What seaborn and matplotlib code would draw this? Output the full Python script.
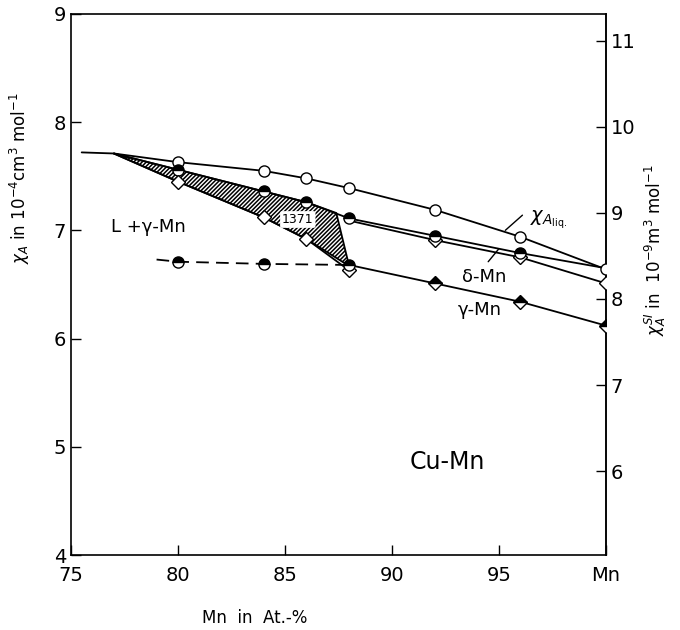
import matplotlib
matplotlib.use('Agg')
import numpy as np
import pandas as pd
import matplotlib.pyplot as plt
import seaborn as sns

sns.set_style('ticks')
plt.rcParams['font.family'] = ['DejaVu Sans']
plt.rcParams['mathtext.fontset'] = 'dejavusans'
plt.rcParams['text.color'] = 'black'
plt.rcParams['axes.labelcolor'] = 'black'
plt.rcParams['xtick.color'] = 'black'
plt.rcParams['ytick.color'] = 'black'
plt.rcParams['hatch.linewidth'] = 1.1

# liquid susceptibility (open circles)
liq_x = [75.5, 77, 80, 84, 86, 88, 92, 96, 100]
liq_y = [7.72, 7.71, 7.63, 7.55, 7.48, 7.39, 7.19, 6.94, 6.64]
liq_mx = [80, 84, 86, 88, 92, 96, 100]
liq_my = [7.63, 7.55, 7.48, 7.39, 7.19, 6.94, 6.64]

# liquidus side / delta-Mn upper branch (half-filled circles)
dup_x = [77, 80, 84, 86, 88, 92, 96, 100]
dup_y = [7.71, 7.56, 7.36, 7.26, 7.11, 6.95, 6.79, 6.65]
dup_mx = [80, 84, 86, 88, 92, 96]
dup_my = [7.56, 7.36, 7.26, 7.11, 6.95, 6.79]

# solidus side (open diamonds)
sol_x = [77, 80, 84, 86, 88]
sol_y = [7.71, 7.45, 7.12, 6.92, 6.63]

# delta-Mn lower branch (open diamonds)
dlo_x = [88, 92, 96, 100]
dlo_y = [7.09, 6.91, 6.75, 6.51]

# gamma-Mn (half-filled diamonds)
gam_x = [88, 92, 96, 100]
gam_y = [6.68, 6.51, 6.34, 6.12]

# dashed branch (half-filled circles)
dash_x = [79, 80, 84, 88]
dash_y = [6.73, 6.71, 6.69, 6.68]
dash_mx = [80, 84, 88]
dash_my = [6.71, 6.69, 6.68]

# two-phase region L + gamma-Mn (hatched)
reg_top_x = [77, 80, 84, 86, 87.4]
reg_top_y = [7.71, 7.56, 7.36, 7.26, 7.16]
reg_bot_x = [88, 86, 84, 80]
reg_bot_y = [6.67, 6.92, 7.12, 7.45]

x_ticks = [75, 80, 85, 90, 95, 100]
x_labels = ['75', '80', '85', '90', '95', 'Mn']
y_ticks = [4, 5, 6, 7, 8, 9]
y2_ticks = [6, 7, 8, 9, 10, 11]
cgs_to_si = 4 * np.pi / 10

fig = plt.figure(figsize=(6.8, 6.3), dpi=100)
ax = fig.add_axes([0.1044, 0.119, 0.7866, 0.859])

lw = 1.3
ms = 8
black = 'black'

ax.fill(reg_top_x + reg_bot_x, reg_top_y + reg_bot_y,
        facecolor='white', edgecolor=black, hatch='////////', linewidth=lw,
        zorder=1)

sns.lineplot(x=liq_x, y=liq_y, ax=ax, color=black, linewidth=lw, zorder=2)
sns.lineplot(x=dup_x, y=dup_y, ax=ax, color=black, linewidth=lw, zorder=2)
sns.lineplot(x=sol_x, y=sol_y, ax=ax, color=black, linewidth=lw, zorder=2)
sns.lineplot(x=dlo_x, y=dlo_y, ax=ax, color=black, linewidth=lw, zorder=2)
sns.lineplot(x=gam_x, y=gam_y, ax=ax, color=black, linewidth=lw, zorder=2)
sns.lineplot(x=dash_x, y=dash_y, ax=ax, color=black, linewidth=lw, zorder=2)
ax.lines[-1].set_dashes((7, 4))

mk = dict(color=black, linestyle='none', markersize=ms, markeredgecolor=black,
          markeredgewidth=1.0, zorder=4)
ax.plot(liq_mx, liq_my, marker='o', markerfacecolor='white', **mk)
ax.plot(dup_mx, dup_my, marker='o', fillstyle='top', markerfacecolor=black,
        markerfacecoloralt='white', **mk)
ax.plot(sol_x[1:], sol_y[1:], marker='D', markerfacecolor='white',
        **{**mk, 'markersize': ms - 1})
ax.plot(dlo_x[1:], dlo_y[1:], marker='D', markerfacecolor='white',
        **{**mk, 'markersize': ms - 1, 'zorder': 3})
ax.plot(gam_x[1:], gam_y[1:], marker='D', fillstyle='top',
        markerfacecolor=black, markerfacecoloralt='white',
        **{**mk, 'markersize': ms - 1})
ax.plot(dash_mx, dash_my, marker='o', fillstyle='top', markerfacecolor=black,
        markerfacecoloralt='white', **mk)

ax.set_xlim(75, 100)
ax.set_ylim(4, 9)
ax.set_xticks(x_ticks)
ax.set_xticklabels(x_labels)
ax.set_yticks(y_ticks)
ax.tick_params(axis='both', direction='in', length=7, width=1.0,
               labelsize=14, colors=black)
ax.tick_params(axis='x', pad=8)
for s in ax.spines.values():
    s.set_linewidth(1.2)
    s.set_color(black)

sec = ax.secondary_yaxis('right', functions=(lambda v: v * cgs_to_si,
                                             lambda r: r / cgs_to_si))
sec.set_yticks(y2_ticks)
sec.tick_params(direction='in', length=7, width=1.0, labelsize=14)
sec.spines['right'].set_linewidth(1.2)

ax.set_xlabel('Mn  in  At.-%', fontsize=12)
ax.xaxis.set_label_coords(0.344, -0.10)
fig.text(20 / 680, 1 - 178 / 630,
         r'$\chi_A$ in $10^{-4}$cm$^3$ mol$^{-1}$', fontsize=12,
         rotation=90, ha='center', va='center')
fig.text(655 / 680, 1 - 250 / 630,
         r'$\chi_A^{SI}$ in  $10^{-9}$m$^3$ mol$^{-1}$', fontsize=12,
         rotation=90, ha='center', va='center')

ax.text(78.6, 7.03, 'L +γ-Mn', fontsize=13, ha='center', va='center')
ax.text(85.6, 7.10, '1371', fontsize=9, ha='center', va='center',
        bbox=dict(boxstyle='round,pad=0.15', fc='white', ec='none'), zorder=5)
ax.text(97.3, 7.10, r'$\chi_{A_{\rm liq.}}$', fontsize=14,
        ha='center', va='center')
ax.annotate('', xy=(95.3, 7.00), xytext=(96.1, 7.14),
            arrowprops=dict(arrowstyle='-', color=black, lw=1.0,
                            shrinkA=0, shrinkB=0))
ax.text(94.3, 6.57, 'δ-Mn', fontsize=13, ha='center', va='center')
ax.annotate('', xy=(95.0, 6.83), xytext=(94.5, 6.71),
            arrowprops=dict(arrowstyle='-', color=black, lw=1.0,
                            shrinkA=0, shrinkB=0))
ax.text(94.1, 6.26, 'γ-Mn', fontsize=13, ha='center', va='center')
ax.text(92.6, 4.86, 'Cu-Mn', fontsize=17, ha='center', va='center')

fig.savefig('out.png', dpi=100)
